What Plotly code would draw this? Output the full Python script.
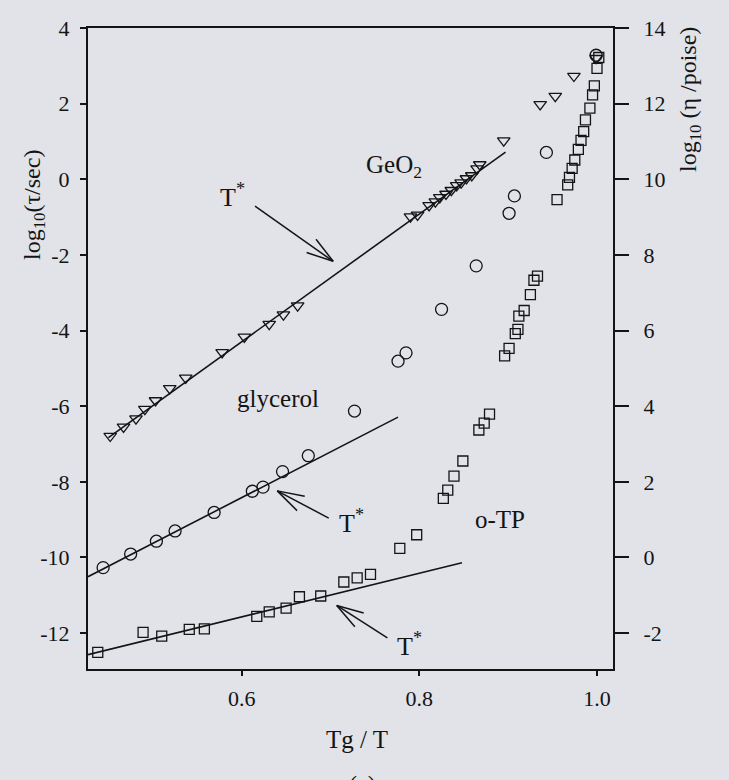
import math
import plotly.graph_objects as go

# ---- data: Tg/T versus log10(tau/sec) -------------------------------------
geo2_x = [0.452, 0.467, 0.481, 0.491, 0.503, 0.519, 0.537, 0.578, 0.603, 0.631,
          0.647, 0.663, 0.790, 0.798, 0.811, 0.818, 0.823, 0.830, 0.836, 0.842,
          0.847, 0.853, 0.859, 0.865, 0.868, 0.895, 0.936, 0.953, 0.974, 0.999]
geo2_y = [-6.79, -6.55, -6.33, -6.08, -5.85, -5.53, -5.25, -4.58, -4.17, -3.83,
          -3.58, -3.34, -0.99, -0.94, -0.69, -0.59, -0.48, -0.39, -0.29, -0.16,
          -0.09, 0.02, 0.10, 0.28, 0.39, 1.02, 1.98, 2.20, 2.73, 3.20]

glyc_x = [0.444, 0.475, 0.504, 0.525, 0.569, 0.612, 0.624, 0.646, 0.675, 0.727,
          0.776, 0.785, 0.825, 0.864, 0.901, 0.907, 0.943, 0.999]
glyc_y = [-10.27, -9.91, -9.57, -9.30, -8.81, -8.25, -8.14, -7.73, -7.31, -6.13,
          -4.81, -4.59, -3.44, -2.29, -0.90, -0.44, 0.71, 3.28]

otp_x = [0.438, 0.489, 0.510, 0.541, 0.558, 0.617, 0.631, 0.650, 0.665, 0.689,
         0.715, 0.730, 0.745, 0.778, 0.797, 0.827, 0.832, 0.839, 0.849, 0.867,
         0.873, 0.879, 0.896, 0.901, 0.908, 0.911, 0.912, 0.918, 0.925, 0.929,
         0.933, 0.955, 0.967, 0.969, 0.972, 0.975, 0.979, 0.982, 0.985, 0.987,
         0.992, 0.995, 0.997, 1.000, 1.002]
otp_y = [-12.51, -11.98, -12.08, -11.90, -11.89, -11.56, -11.44, -11.34, -11.04, -11.02,
         -10.65, -10.54, -10.45, -9.76, -9.40, -8.44, -8.22, -7.85, -7.45, -6.63,
         -6.45, -6.21, -4.67, -4.47, -4.08, -3.97, -3.62, -3.47, -3.05, -2.67,
         -2.56, -0.54, -0.15, 0.05, 0.29, 0.51, 0.79, 1.03, 1.26, 1.57,
         1.88, 2.23, 2.47, 2.93, 3.22]

# Arrhenius fits (straight lines) at high temperature
geo2_fit_x = [0.450, 0.897]
geo2_fit_y = [-6.83, 0.72]
glyc_fit_x = [0.427, 0.776]
glyc_fit_y = [-10.51, -6.29]
otp_fit_x = [0.427, 0.848]
otp_fit_y = [-12.57, -10.14]

# T* arrows: (tail x, tail y, head x, head y) and label positions
tstar_arrows = [(0.615, -0.71, 0.703, -2.17),
                (0.698, -8.96, 0.640, -8.24),
                (0.764, -12.13, 0.707, -11.27)]
tstar_labels = [(0.590, -0.42), (0.724, -9.05), (0.789, -12.30)]

series_labels = [("GeO<sub>2</sub>", 0.772, 0.35),
                 ("glycerol", 0.641, -5.79),
                 ("o-TP", 0.891, -8.99)]

left_ticks = [4, 2, 0, -2, -4, -6, -8, -10, -12]
right_ticks = [14, 12, 10, 8, 6, 4, 2, 0, -2]
x_ticks = [0.6, 0.8, 1.0]

X_RANGE = [0.427, 1.018]
Y_RANGE = [-12.95, 4.0]
Y2_OFFSET = 10.0          # log10(eta/poise) = log10(tau/sec) + 10

# ---- figure geometry -------------------------------------------------------
W, H = 729, 780
M_L, M_R, M_T, M_B = 88, 116, 28, 111
PLOT_W = W - M_L - M_R
PLOT_H = H - M_T - M_B
PX_X = PLOT_W / (X_RANGE[1] - X_RANGE[0])
PX_Y = PLOT_H / (Y_RANGE[1] - Y_RANGE[0])

BG = "#e1e3e9"
INK = "#141414"
SERIF = "Liberation Serif, Times New Roman, serif"


def paper_x(px):
    return (px - M_L) / PLOT_W


def paper_y(py):
    return (H - M_B - py) / PLOT_H


fig = go.Figure()

marker_line = dict(color=INK, width=1.3)
for fx, fy in ((geo2_fit_x, geo2_fit_y), (glyc_fit_x, glyc_fit_y), (otp_fit_x, otp_fit_y)):
    fig.add_trace(go.Scatter(x=fx, y=fy, mode="lines",
                             line=dict(color=INK, width=1.6), showlegend=False))

fig.add_trace(go.Scatter(x=geo2_x, y=geo2_y, mode="markers", showlegend=False,
                         marker=dict(symbol="triangle-down-open", size=11, line=marker_line, color=INK)))
fig.add_trace(go.Scatter(x=glyc_x, y=glyc_y, mode="markers", showlegend=False,
                         marker=dict(symbol="circle-open", size=12, line=marker_line, color=INK)))
fig.add_trace(go.Scatter(x=otp_x, y=otp_y, mode="markers", showlegend=False,
                         marker=dict(symbol="square-open", size=10, line=marker_line, color=INK)))

# invisible trace to carry the right-hand viscosity axis
fig.add_trace(go.Scatter(x=[X_RANGE[0]], y=[Y_RANGE[0] + Y2_OFFSET], yaxis="y2",
                         mode="markers", marker=dict(opacity=0), showlegend=False,
                         hoverinfo="skip"))

# open V-shaped arrowheads built from line shapes
BARB_LEN = 28
BARB_ANG = math.radians(17)
for tx, ty, hx, hy in tstar_arrows:
    fig.add_shape(type="line", x0=tx, y0=ty, x1=hx, y1=hy,
                  line=dict(color=INK, width=1.5))
    # direction from head back to tail, in screen pixels (y down)
    dxp = (tx - hx) * PX_X
    dyp = -(ty - hy) * PX_Y
    base = math.atan2(dyp, dxp)
    for s in (-1, 1):
        a = base + s * BARB_ANG
        bx = hx + BARB_LEN * math.cos(a) / PX_X
        by = hy - BARB_LEN * math.sin(a) / PX_Y
        fig.add_shape(type="line", x0=hx, y0=hy, x1=bx, y1=by,
                      line=dict(color=INK, width=1.5))

for lx, ly in tstar_labels:
    fig.add_annotation(x=lx, y=ly, text="T<sup>*</sup>", showarrow=False,
                       xanchor="center", yanchor="middle",
                       font=dict(family=SERIF, size=26, color=INK))

for txt, lx, ly in series_labels:
    fig.add_annotation(x=lx, y=ly, text=txt, showarrow=False,
                       xanchor="center", yanchor="middle",
                       font=dict(family=SERIF, size=25, color=INK))

# axis titles
fig.add_annotation(xref="paper", yref="paper", x=paper_x(34), y=paper_y(205),
                   xanchor="center", yanchor="middle",
                   text="log<sub>10</sub>(τ/sec)", textangle=-90, showarrow=False,
                   font=dict(family=SERIF, size=24, color=INK))
fig.add_annotation(xref="paper", yref="paper", x=paper_x(690), y=paper_y(100),
                   xanchor="center", yanchor="middle",
                   text="log<sub>10</sub> (η /poise)", textangle=-90, showarrow=False,
                   font=dict(family=SERIF, size=24, color=INK))
fig.add_annotation(xref="paper", yref="paper", x=paper_x(357), y=paper_y(739),
                   xanchor="center", yanchor="middle",
                   text="Tg / T", showarrow=False,
                   font=dict(family=SERIF, size=25, color=INK))
# panel tag, running off the lower edge of the page
fig.add_annotation(xref="paper", yref="paper", x=paper_x(362), y=paper_y(769),
                   xanchor="center", yanchor="top",
                   text="(a)", showarrow=False,
                   font=dict(family=SERIF, size=24, color=INK))

fig.update_layout(
    width=W, height=H,
    margin=dict(l=M_L, r=M_R, t=M_T, b=M_B, pad=0),
    paper_bgcolor=BG, plot_bgcolor=BG,
    font=dict(family=SERIF, size=22, color=INK),
    xaxis=dict(range=X_RANGE, tickvals=x_ticks, ticktext=["0.6", "0.8", "1.0"],
               showgrid=False, zeroline=False, showline=True, linecolor=INK, linewidth=2,
               mirror=True, ticks="outside", ticklen=5, tickwidth=1.5, tickcolor=INK,
               ticklabelstandoff=4),
    yaxis=dict(range=Y_RANGE, tickvals=left_ticks, ticktext=[str(v) for v in left_ticks],
               showgrid=False, zeroline=False, showline=True, linecolor=INK, linewidth=2,
               ticks="outside", ticklen=6, tickwidth=1.5, tickcolor=INK,
               ticklabelstandoff=6),
    yaxis2=dict(range=[Y_RANGE[0] + Y2_OFFSET, Y_RANGE[1] + Y2_OFFSET], overlaying="y",
                side="right", tickvals=right_ticks, ticktext=[str(v) for v in right_ticks],
                showgrid=False, zeroline=False, showline=True, linecolor=INK, linewidth=2,
                ticks="outside", ticklen=14, tickwidth=1.5, tickcolor=INK,
                ticklabelstandoff=10),
)

fig.write_html("out.html")
